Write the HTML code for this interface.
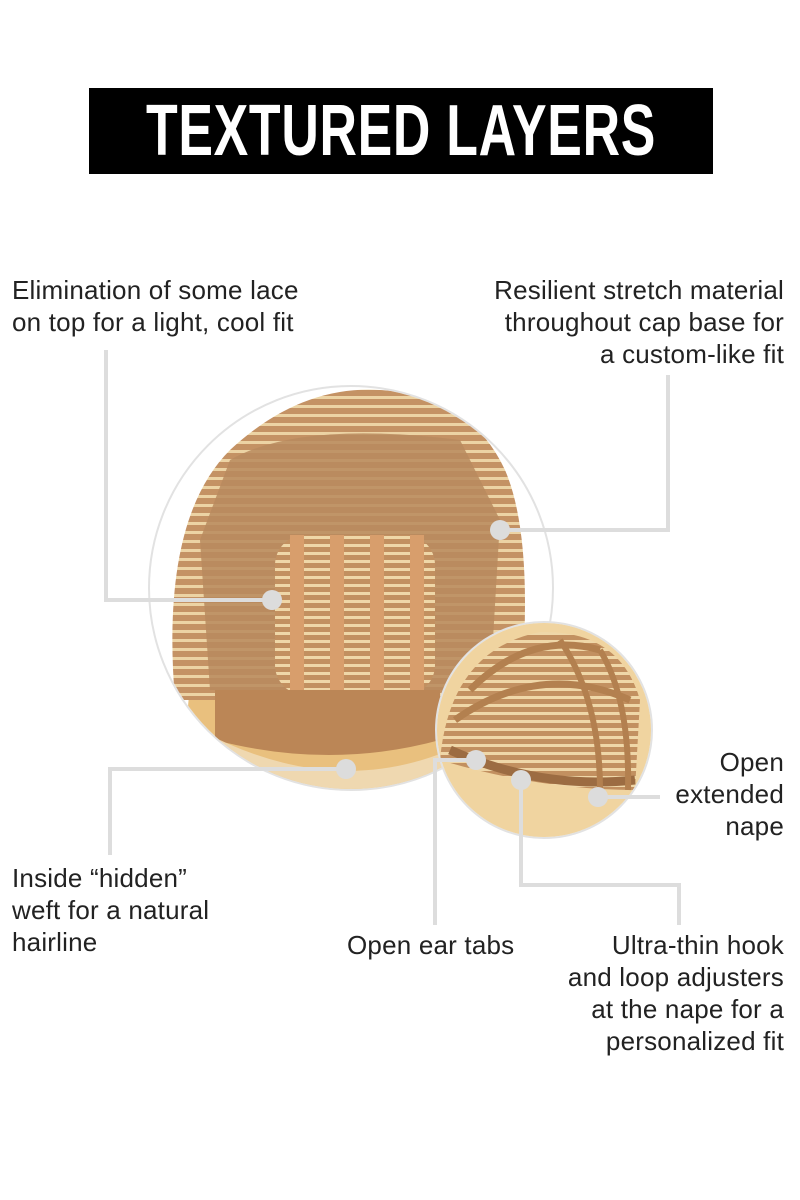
<!DOCTYPE html>
<html><head><style>
body{margin:0;width:800px;height:1200px;background:#fff;position:relative;overflow:hidden;font-family:"Liberation Sans",sans-serif;color:#222}
.t{position:absolute;font-size:26px;line-height:32px;letter-spacing:0.2px;white-space:nowrap}
.r{text-align:right}
</style></head><body>
<div style="position:absolute;left:89px;top:88px;width:624px;height:86px;background:#000;"></div>
<div style="position:absolute;left:401px;top:88px;height:86px;color:#fff;font-weight:bold;font-size:72px;line-height:86px;white-space:nowrap;transform:translateX(-50%) scaleX(0.72);letter-spacing:1px">TEXTURED LAYERS</div>
<svg width="800" height="1200" style="position:absolute;left:0;top:0">
<defs>
<clipPath id="c1"><circle cx="351" cy="588" r="201"/></clipPath>
<clipPath id="c2"><circle cx="544" cy="730" r="107"/></clipPath>
<pattern id="st" width="10" height="9" patternUnits="userSpaceOnUse"><rect width="10" height="9" fill="#c49264"/><rect y="0" width="10" height="3" fill="#ecd3a4"/></pattern>
<pattern id="st2" width="10" height="8" patternUnits="userSpaceOnUse"><rect width="10" height="8" fill="#c29060"/><rect width="10" height="3" fill="#efd7a8"/></pattern>
</defs>
<circle cx="351" cy="588" r="202" fill="#fff" stroke="#e2e2e2" stroke-width="2"/>
<g clip-path="url(#c1)">
<path d="M190 800 Q180 700 200 650 L520 650 Q530 720 520 800Z" fill="#e9c07e"/>
<path d="M175 700 Q160 520 230 450 Q300 385 380 390 Q470 395 505 470 Q535 540 520 700Z" fill="url(#st)"/>
<path d="M230 460 Q300 420 460 440 L500 520 L490 690 L210 690 L200 540Z" fill="#b98a5e" opacity="0.85"/>
<rect x="275" y="535" width="160" height="160" rx="30" fill="url(#st2)"/>
<rect x="290" y="535" width="14" height="160" fill="#d89e6c"/><rect x="330" y="535" width="14" height="160" fill="#d89e6c"/><rect x="370" y="535" width="14" height="160" fill="#d89e6c"/><rect x="410" y="535" width="14" height="160" fill="#d89e6c"/>
<path d="M215 690 L440 690 L440 740 Q330 770 215 740Z" fill="#bb8656"/>
<path d="M200 730 Q330 800 450 750 L450 800 L200 800Z" fill="#efd8b0"/>
</g>
<circle cx="544" cy="730" r="108" fill="#fff" stroke="#e2e2e2" stroke-width="2"/>
<g clip-path="url(#c2)">
<rect x="430" y="620" width="230" height="230" fill="#f0d4a0"/>
<path d="M440 760 Q450 650 540 632 Q620 630 640 700 L635 790 Q540 790 440 760Z" fill="url(#st2)"/>
<path d="M470 690 Q530 630 600 650" stroke="#b3804f" stroke-width="7" fill="none"/>
<path d="M455 720 Q540 660 630 700" stroke="#b3804f" stroke-width="7" fill="none"/>
<path d="M450 750 Q540 790 635 780" stroke="#9c6c42" stroke-width="9" fill="none"/>
<path d="M560 640 Q600 700 600 790" stroke="#b3804f" stroke-width="6" fill="none"/>
<path d="M600 650 Q630 700 628 790" stroke="#b3804f" stroke-width="6" fill="none"/>
</g>
<g stroke="#ddd" stroke-width="4" fill="none">
<polyline points="106,350 106,600 272,600"/>
<polyline points="668,375 668,530 500,530"/>
<polyline points="346,769 110,769 110,855"/>
<polyline points="476,760 435,760 435,925"/>
<polyline points="521,780 521,885 679,885 679,925"/>
<polyline points="598,797 660,797"/>
</g>
<g fill="#dcdcdc">
<circle cx="272" cy="600" r="10"/><circle cx="500" cy="530" r="10"/><circle cx="346" cy="769" r="10"/><circle cx="476" cy="760" r="10"/><circle cx="521" cy="780" r="10"/><circle cx="598" cy="797" r="10"/>
</g>
</svg>
<div class="t" style="left:12px;top:274px">Elimination of some lace<br>on top for a light, cool fit</div>
<div class="t r" style="right:16px;top:274px">Resilient stretch material<br>throughout cap base for<br>a custom-like fit</div>
<div class="t r" style="right:16px;top:746px">Open<br>extended<br>nape</div>
<div class="t" style="left:12px;top:862px">Inside “hidden”<br>weft for a natural<br>hairline</div>
<div class="t" style="left:347px;top:929px">Open ear tabs</div>
<div class="t r" style="right:16px;top:929px">Ultra-thin hook<br>and loop adjusters<br>at the nape for a<br>personalized fit</div>
</body></html>
